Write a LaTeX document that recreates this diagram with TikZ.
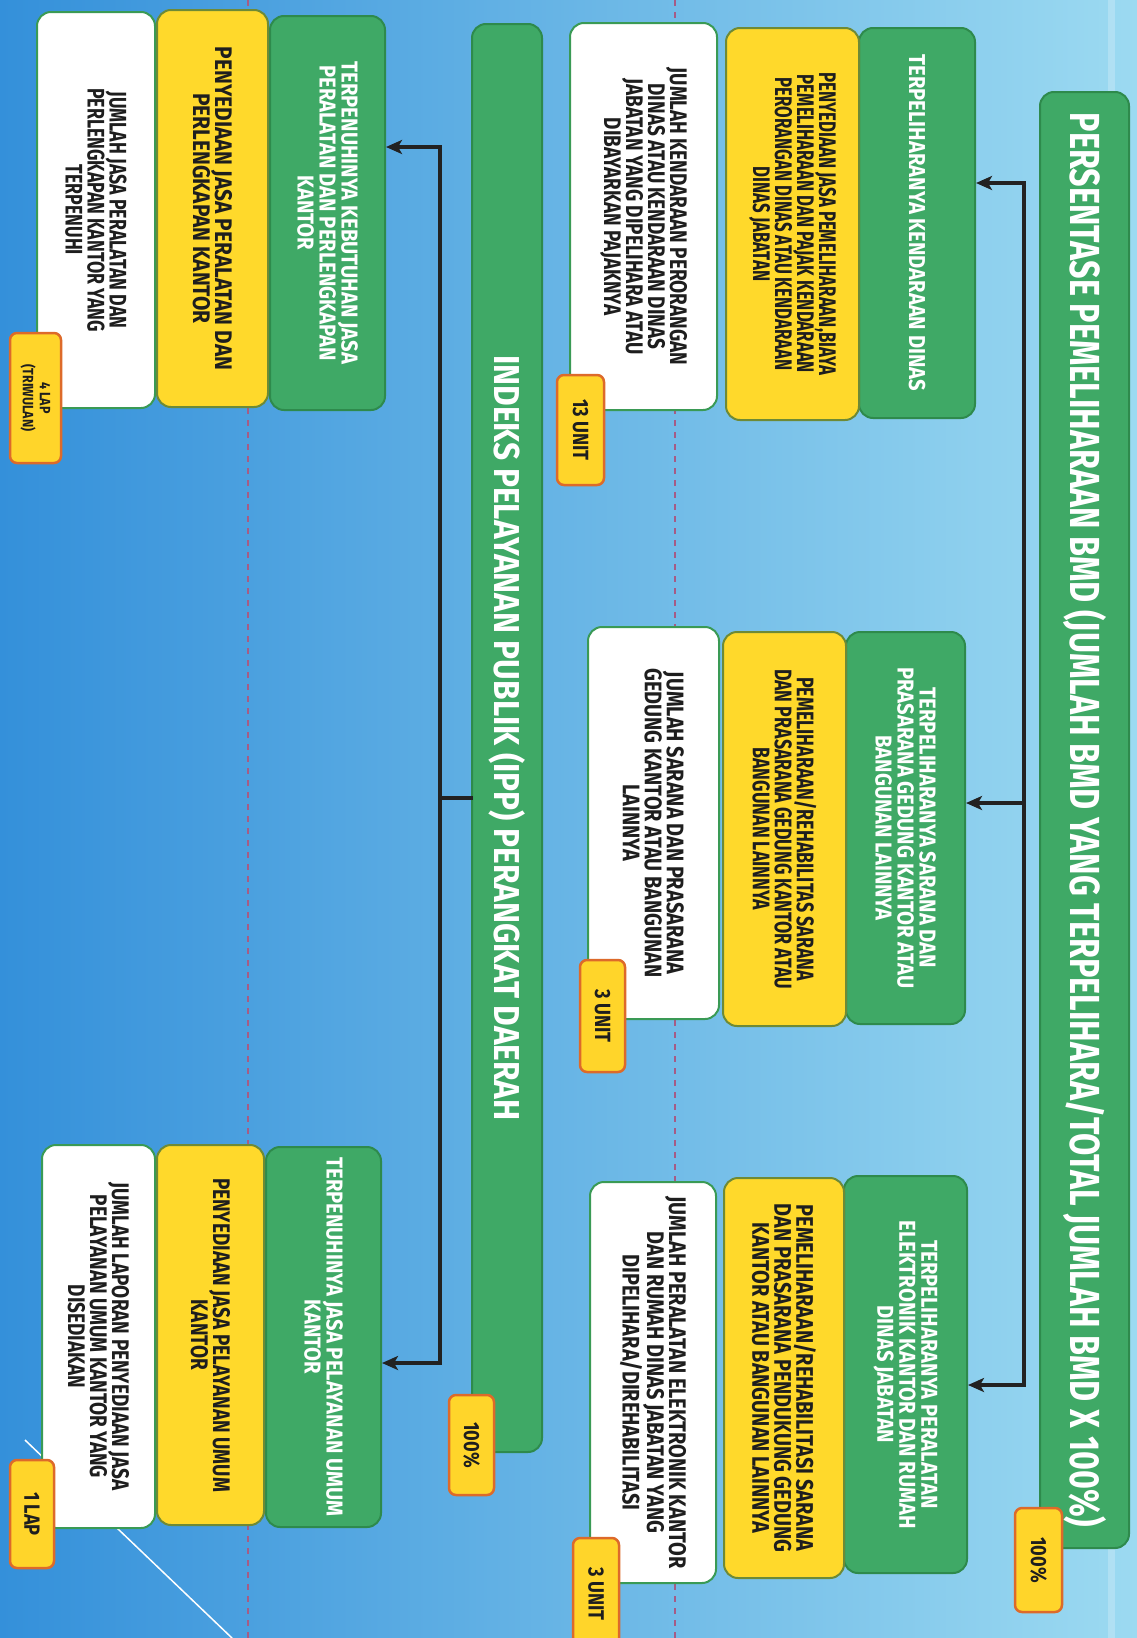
\documentclass[tikz,border=0pt]{standalone}
\usepackage{fontspec}
\setmainfont{Fira Sans}
\newfontfamily\fcA{Fira Sans}[FakeStretch=0.70]
\newfontfamily\fcB{Fira Sans}[FakeStretch=0.74]
\newfontfamily\fcC{Fira Sans}[FakeStretch=0.79]
\newfontfamily\fcD{Fira Sans}[FakeStretch=0.83]
\newfontfamily\fcE{Fira Sans}[FakeStretch=0.87]
\newfontfamily\fgreen{Fira Sans}[FakeStretch=0.88]
\newfontfamily\ftitleA{Fira Sans}[FakeStretch=0.77]
\newfontfamily\ftitleB{Fira Sans}[FakeStretch=0.88]
\usetikzlibrary{arrows.meta}
\definecolor{bgL}{HTML}{3490DA}
\definecolor{bgM}{HTML}{5DB0E7}
\definecolor{bgR}{HTML}{9CDAF1}
\definecolor{gfill}{HTML}{3FA966}
\definecolor{gdraw}{HTML}{2E8A4C}
\definecolor{yfill}{HTML}{FFD92B}
\definecolor{ydraw}{HTML}{6E8A36}
\definecolor{wdraw}{HTML}{3A9A55}
\definecolor{tfill}{HTML}{FFD52A}
\definecolor{tdraw}{HTML}{DD6A2A}
\definecolor{txt}{HTML}{1E1E1E}
\definecolor{dashc}{HTML}{A55C86}
\definecolor{connc}{HTML}{222222}
\tikzset{
  basebox/.style={rotate=-90, rounded corners=14pt, align=center, inner sep=4pt, line width=2pt},
  gbox/.style={basebox, fill=gfill, draw=gdraw, text=white, font={\fgreen\bfseries\fontsize{23}{22}\selectfont}},
  ybox/.style={basebox, fill=yfill, draw=ydraw, text=txt, font={#1\bfseries\fontsize{24}{22}\selectfont}},
  wbox/.style={basebox, fill=white, draw=wdraw, text=txt, font={#1\bfseries\fontsize{24}{22}\selectfont}},
  titlebox/.style={basebox, fill=gfill, draw=gdraw, text=white},
  tagbox/.style={rotate=-90, rounded corners=7pt, fill=tfill, draw=tdraw, line width=2.5pt, text=txt, align=center, inner sep=2pt, font={\fcD\bfseries\fontsize{22}{22}\selectfont}},
  redline/.style={dashc, line width=2.5pt, dash pattern=on 6pt off 6pt},
  conn/.style={connc, line width=3.5pt, line cap=rect},
  arr/.style={connc, line width=3.5pt, -{Stealth[length=16pt,width=14pt,inset=4pt]}}
}
\begin{document}
\begin{tikzpicture}[x=1pt,y=-1pt]
\useasboundingbox (0,0) rectangle (1137,1638);
\shade[left color=bgL, middle color=bgM, right color=bgR] (0,0) rectangle (1137,1638);
\fill[white, opacity=0.22] (1108,0) rectangle (1115,1638);
\draw[white, line width=1.5pt] (25,1440) -- (232,1638);
\draw[redline] (248,0) -- (248,1638);
\draw[redline] (675,0) -- (675,1638);

% right title
\node[titlebox, minimum width=1456pt, minimum height=89pt, font={\ftitleA\bfseries\fontsize{42}{42}\selectfont}] (t1) at (1084.5,820)
  {PERSENTASE PEMELIHARAAN BMD (JUMLAH BMD YANG TERPELIHARA/TOTAL JUMLAH BMD X 100\%)};
\node[tagbox, minimum width=104pt, minimum height=47pt] (t1tag) at (1038.5,1560) {100\%};

% right column A
\node[gbox, minimum width=390pt, minimum height=116pt] (gA) at (917,223) {TERPELIHARANYA KENDARAAN DINAS};
\node[ybox=\fcA, minimum width=392pt, minimum height=133pt] (yA) at (792.5,224)
  {PENYEDIAAN JASA PEMELIHARAAN,BIAYA\\PEMELIHARAAN DAN PAJAK KENDARAAN\\PERORANGAN DINAS ATAU KENDARAAN\\DINAS JABATAN};
\node[wbox=\fcC, minimum width=387pt, minimum height=147pt] (wA) at (643.5,216.5)
  {JUMLAH KENDARAAN PERORANGAN\\DINAS ATAU KENDARAAN DINAS\\JABATAN YANG DIPELIHARA ATAU\\DIBAYARKAN PAJAKNYA};
\node[tagbox, minimum width=110pt, minimum height=47pt] (tagA) at (580.5,430) {13 UNIT};

% right column B
\node[gbox, minimum width=392pt, minimum height=119pt] (gB) at (905.5,828)
  {TERPELIHARANYA SARANA DAN\\PRASARANA GEDUNG KANTOR ATAU\\BANGUNAN LAINNYA};
\node[ybox=\fcB, minimum width=394pt, minimum height=123pt] (yB) at (784.5,829)
  {PEMELIHARAAN/REHABILITAS SARANA\\DAN PRASARANA GEDUNG KANTOR ATAU\\BANGUNAN LAINNYA};
\node[wbox=\fcD, minimum width=392pt, minimum height=131pt] (wB) at (653.5,823)
  {JUMLAH SARANA DAN PRASARANA\\GEDUNG KANTOR ATAU BANGUNAN\\LAINNYA};
\node[tagbox, minimum width=112pt, minimum height=45pt] (tagB) at (602.5,1016) {3 UNIT};

% right column C
\node[gbox, minimum width=397pt, minimum height=123pt] (gC) at (905.5,1374.5)
  {TERPELIHARANYA PERALATAN\\ELEKTRONIK KANTOR DAN RUMAH\\DINAS JABATAN};
\node[ybox=\fcD, minimum width=400pt, minimum height=120pt] (yC) at (784,1378)
  {PEMELIHARAAN/REHABILITASI SARANA\\DAN PRASARANA PENDUKUNG GEDUNG\\KANTOR ATAU BANGUNAN LAINNYA};
\node[wbox=\fcD, minimum width=401pt, minimum height=126pt] (wC) at (653,1382.5)
  {JUMLAH PERALATAN ELEKTRONIK KANTOR\\DAN RUMAH DINAS JABATAN YANG\\DIPELIHARA/DIREHABILITASI};
\node[tagbox, minimum width=112pt, minimum height=46pt] (tagC) at (596,1594) {3 UNIT};

% left title
\node[titlebox, minimum width=1428pt, minimum height=70pt, font={\ftitleB\bfseries\fontsize{36}{36}\selectfont}] (t2) at (507,738)
  {INDEKS PELAYANAN PUBLIK (IPP) PERANGKAT DAERAH};
\node[tagbox, minimum width=100pt, minimum height=45pt] (t2tag) at (471.5,1445) {100\%};

% left column A
\node[gbox, minimum width=394pt, minimum height=115pt] (gLA) at (327.5,213)
  {TERPENUHINYA KEBUTUHAN JASA\\PERALATAN DAN PERLENGKAPAN\\KANTOR};
\node[ybox=\fcE, minimum width=397pt, minimum height=111pt] (yLA) at (212.5,208.5)
  {PENYEDIAAN JASA PERALATAN DAN\\PERLENGKAPAN KANTOR};
\node[wbox=\fcB, minimum width=396pt, minimum height=118pt] (wLA) at (96,210)
  {JUMLAH JASA PERALATAN DAN\\PERLENGKAPAN KANTOR YANG\\TERPENUHI};
\node[tagbox, minimum width=130pt, minimum height=51pt, font={\fcD\bfseries\fontsize{15}{17}\selectfont}] (tagLA) at (35.5,398) {4 LAP\\(TRIWULAN)};

% left column C
\node[gbox, minimum width=380pt, minimum height=115pt] (gLC) at (323.5,1337)
  {TERPENUHINYA JASA PELAYANAN UMUM\\KANTOR};
\node[ybox=\fcC, minimum width=380pt, minimum height=107pt] (yLC) at (210.5,1335)
  {PENYEDIAAN JASA PELAYANAN UMUM\\KANTOR};
\node[wbox=\fcC, minimum width=383pt, minimum height=113pt] (wLC) at (98.5,1336.5)
  {JUMLAH LAPORAN PENYEDIAAN JASA\\PELAYANAN UMUM KANTOR YANG\\DISEDIAKAN};
\node[tagbox, minimum width=108pt, minimum height=44pt] (tagLC) at (32,1514) {1 LAP};

% connectors right
\coordinate (rTop) at (1024,183);
\coordinate (rMid) at (1024,803);
\coordinate (rBot) at (1024,1385);
\draw[conn] (rTop) -- (rBot);
\draw[arr] (rTop) -- (rTop -| gA.north);
\draw[arr] (rMid) -- (rMid -| gB.north);
\draw[arr] (rBot) -- (rBot -| gC.north);

% connectors left
\coordinate (lTop) at (440,147);
\coordinate (lMid) at (440,798);
\coordinate (lBot) at (440,1363);
\draw[conn] (lTop) -- (lBot);
\draw[conn] (lMid) -- (lMid -| t2.south);
\draw[arr] (lTop) -- (lTop -| gLA.north);
\draw[arr] (lBot) -- (lBot -| gLC.north);
\end{tikzpicture}
\end{document}
